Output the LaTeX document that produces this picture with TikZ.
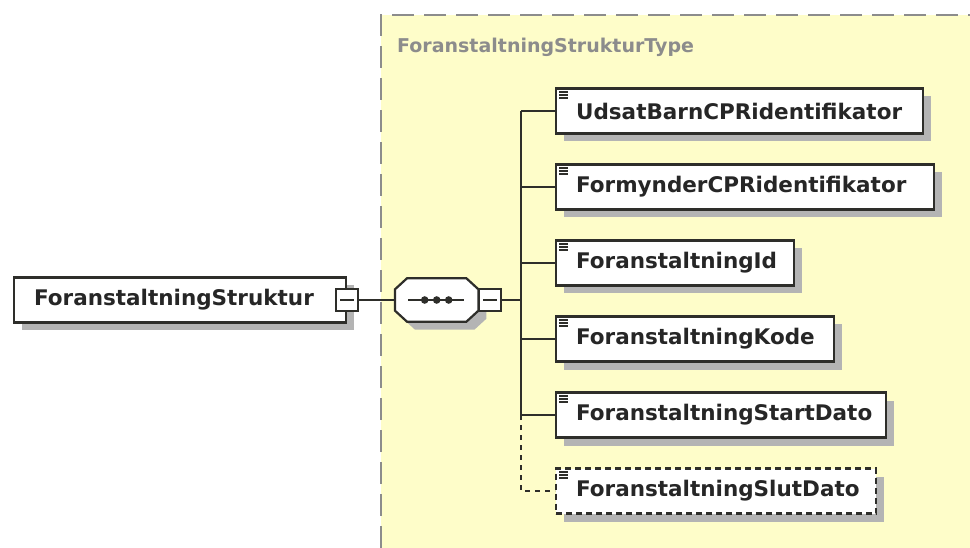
\documentclass[tikz,border=0pt]{standalone}
\usepackage{fontspec}
\setmainfont{DejaVu Sans}
\usetikzlibrary{shadows}

\definecolor{typefill}{HTML}{FEFDC9}
\definecolor{typeline}{HTML}{8C8C8C}
\definecolor{elemline}{HTML}{2E2E2A}
\definecolor{elemtext}{HTML}{262626}
\definecolor{shadowgray}{HTML}{B4B4B4}

\tikzset{
  elemshadow/.style={drop shadow={shadow xshift=8pt, shadow yshift=-8pt, fill=shadowgray, opacity=1}},
  elem/.style={draw=elemline, line width=2.2pt, fill=white, elemshadow, anchor=west,
    minimum height=45pt, text width=#1, inner xsep=0pt, inner ysep=0pt, align=left,
    text=elemtext, font=\fontsize{21.5}{24}\selectfont\bfseries,
    execute at begin node={\hspace*{20pt}}},
  optelem/.style={elem=#1, dash pattern=on 6pt off 4pt},
  minusbox/.style={draw=elemline, line width=1.9pt, fill=white, minimum size=22pt, inner sep=0pt},
  seqbox/.style={minimum width=83pt, minimum height=43pt, inner sep=0pt},
  wire/.style={draw=elemline, line width=2.6pt},
}

\begin{document}
\begin{tikzpicture}[x=1pt,y=-1pt]
    \useasboundingbox (0,0) rectangle (970,548);
    % complex type area
    \fill[typefill] (381,15) rectangle (970,548);
    \draw[typeline, line width=2pt, dash pattern=on 22pt off 10pt] (381,548) -- (381,15) -- (975,15);
    \node[anchor=west, text=typeline, font=\fontsize{19}{22}\selectfont\bfseries, inner sep=0pt] (title) at (397,47) {ForanstaltningStrukturType};

    % root element and sequence
    \node[elem=332] (main) at (13,300) {ForanstaltningStruktur};
    \node[minusbox] (mm1) at (main.east) {};
    \node[seqbox, anchor=west] (seq) at (395,300) {};
    \draw[elemline, line width=2.2pt, fill=white, elemshadow]
        ([shift={(12,0)}]seq.north west) -- ([shift={(-12,0)}]seq.north east)
        -- ([shift={(0,11)}]seq.north east) -- ([shift={(0,-11)}]seq.south east)
        -- ([shift={(-12,0)}]seq.south east) -- ([shift={(12,0)}]seq.south west)
        -- ([shift={(0,-11)}]seq.south west) -- ([shift={(0,11)}]seq.north west) -- cycle;
    \node[minusbox, anchor=west] (mm2) at (seq.east) {};
    \coordinate (trunk) at (521,300);

    % child elements
    \node[elem=367] (c1) at (555,111) {UdsatBarnCPRidentifikator};
    \node[elem=378] (c2) at (555,187) {FormynderCPRidentifikator};
    \node[elem=238] (c3) at (555,263) {ForanstaltningId};
    \node[elem=278] (c4) at (555,339) {ForanstaltningKode};
    \node[elem=330] (c5) at (555,415) {ForanstaltningStartDato};
    \node[optelem=320] (c6) at (555,491) {ForanstaltningSlutDato};

    % minus signs and sequence symbol
    \foreach \m in {mm1,mm2}
        \draw[elemline, line width=1.8pt] ([xshift=5pt]\m.west) -- ([xshift=-5pt]\m.east);
    \draw[elemline, line width=1.8pt] ([xshift=13pt]seq.west) -- ([xshift=-14pt]seq.east);
    \foreach \dx in {-12,0,12}
        \fill[elemline] ([xshift=\dx pt]seq.center) circle (3.8);

    % element icons
    \foreach \c in {c1,c2,c3,c4,c5,c6}
        \foreach \dy in {4.5,7.5,10.5}
            \draw[elemline, line width=1.3pt] ([shift={(4,\dy)}]\c.north west) -- ++(9,0);

    % connectors
    \draw[wire] (mm1.east) -- (seq.west);
    \draw[wire] (mm2.east) -- (trunk);
    \draw[wire] (trunk |- c1.west) -- (trunk |- c5.west);
    \foreach \c in {c1,c2,c3,c4,c5}
        \draw[wire] (trunk |- \c.west) -- (\c.west);
    \draw[wire, dash pattern=on 5pt off 5pt] (trunk |- c5.west) |- (c6.west);
\end{tikzpicture}
\end{document}
